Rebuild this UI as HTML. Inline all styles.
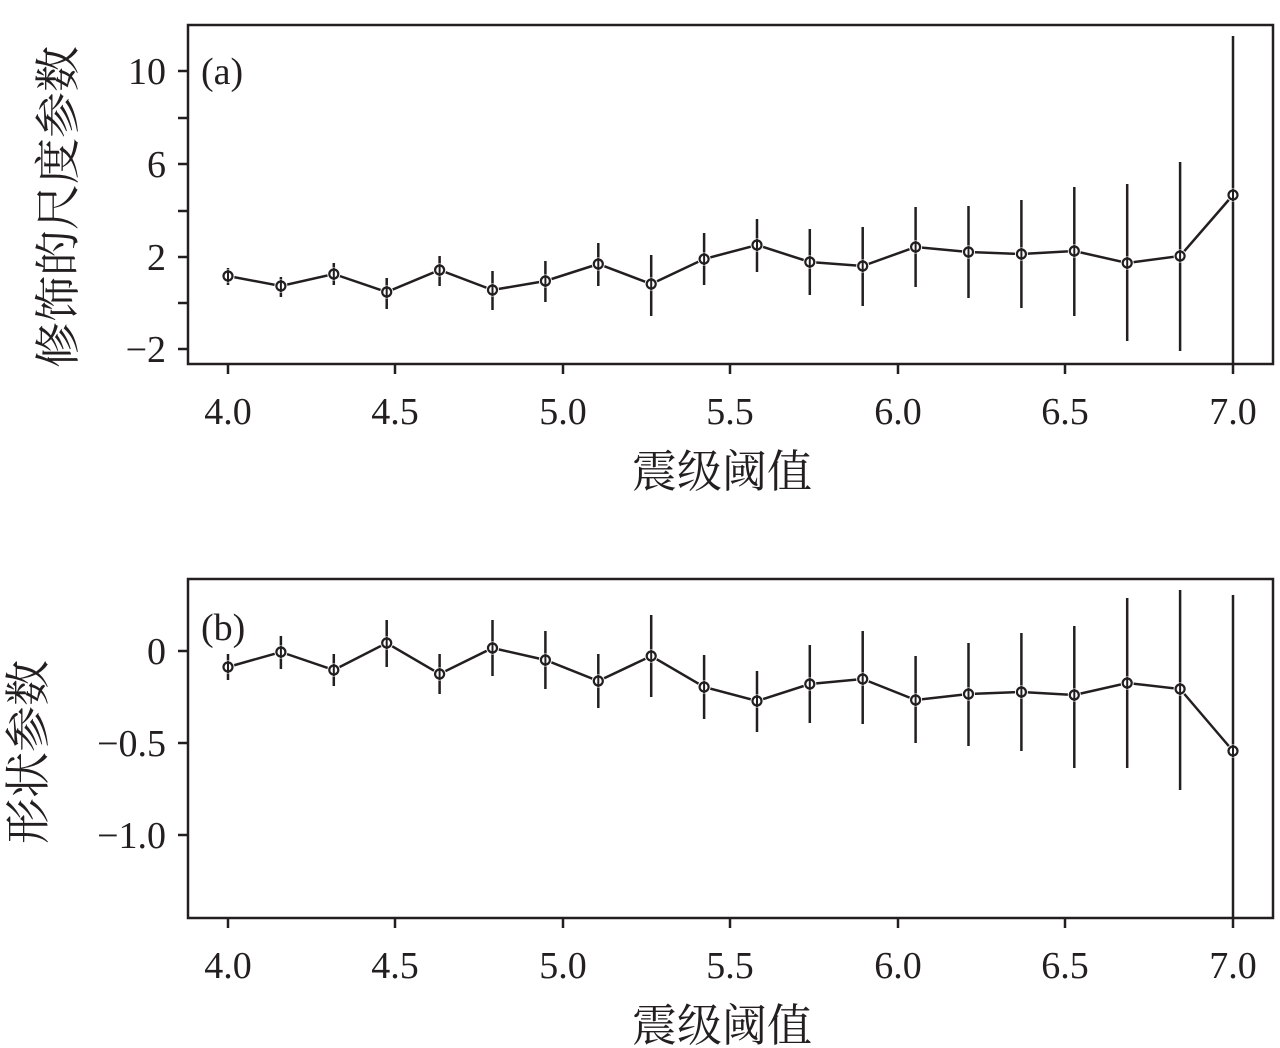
<!DOCTYPE html>
<html><head><meta charset="utf-8"><style>body{margin:0;background:#fff}svg{display:block}</style></head>
<body>
<svg width="1280" height="1048" xmlns="http://www.w3.org/2000/svg" font-family="'Liberation Serif','Noto Serif CJK SC',serif" fill="#231f20">
<g stroke="#231f20" stroke-width="2.5" fill="none">
<rect x="188" y="25" width="1085" height="339"/>
<path d="M188 71h-10M188 118h-10M188 164h-10M188 211h-10M188 257h-10M188 303h-10M188 349h-10"/>
<path d="M228 364v10M395 364v10M563 364v10M730 364v10M898 364v10M1065 364v10M1233 364v10"/>
<rect x="188" y="579" width="1085" height="339"/>
<path d="M188 651h-10M188 743h-10M188 835h-10"/>
<path d="M228 918v10M395 918v10M563 918v10M730 918v10M898 918v10M1065 918v10M1233 918v10"/>
<path d="M228 268V285M280.9 277V297M333.8 263V285M386.7 278V309M439.6 256V286M492.5 271V310M545.4 261V302M598.3 243V286M651.2 255V316M704.1 233V285M757 219V272M809.8 229V295M862.7 227V306M915.6 207V287M968.5 206V298M1021.4 200V308M1074.3 187V316M1127.2 184V341M1180.1 162V351M1233 36V365"/>
<polyline points="228,276 280.9,286 333.8,274 386.7,292 439.6,270 492.5,290 545.4,281 598.3,264 651.2,284 704.1,259 757,245 809.8,262 862.7,266 915.6,247 968.5,252 1021.4,254 1074.3,251 1127.2,263 1180.1,256 1233,195"/>
<path d="M228 654V680M280.9 636V669M333.8 654V686M386.7 620V667M439.6 654V694M492.5 620V676M545.4 631V689M598.3 654V708M651.2 615V697M704.1 655V719M757 671V732M809.8 645V723M862.7 631V724M915.6 656V743M968.5 643V746M1021.4 633V751M1074.3 626V768M1127.2 598V768M1180.1 590V790M1233 595V918"/>
<polyline points="228,667 280.9,652 333.8,670 386.7,643 439.6,674 492.5,648 545.4,660 598.3,681 651.2,656 704.1,687 757,701 809.8,684 862.7,679 915.6,700 968.5,694 1021.4,692 1074.3,695 1127.2,683 1180.1,689 1233,751"/>
</g>
<g fill="#fff">
<circle cx="228" cy="276" r="6.5"/><circle cx="280.9" cy="286" r="6.5"/><circle cx="333.8" cy="274" r="6.5"/><circle cx="386.7" cy="292" r="6.5"/><circle cx="439.6" cy="270" r="6.5"/><circle cx="492.5" cy="290" r="6.5"/><circle cx="545.4" cy="281" r="6.5"/><circle cx="598.3" cy="264" r="6.5"/><circle cx="651.2" cy="284" r="6.5"/><circle cx="704.1" cy="259" r="6.5"/><circle cx="757" cy="245" r="6.5"/><circle cx="809.8" cy="262" r="6.5"/><circle cx="862.7" cy="266" r="6.5"/><circle cx="915.6" cy="247" r="6.5"/><circle cx="968.5" cy="252" r="6.5"/><circle cx="1021.4" cy="254" r="6.5"/><circle cx="1074.3" cy="251" r="6.5"/><circle cx="1127.2" cy="263" r="6.5"/><circle cx="1180.1" cy="256" r="6.5"/><circle cx="1233" cy="195" r="6.5"/>
<circle cx="228" cy="667" r="6.5"/><circle cx="280.9" cy="652" r="6.5"/><circle cx="333.8" cy="670" r="6.5"/><circle cx="386.7" cy="643" r="6.5"/><circle cx="439.6" cy="674" r="6.5"/><circle cx="492.5" cy="648" r="6.5"/><circle cx="545.4" cy="660" r="6.5"/><circle cx="598.3" cy="681" r="6.5"/><circle cx="651.2" cy="656" r="6.5"/><circle cx="704.1" cy="687" r="6.5"/><circle cx="757" cy="701" r="6.5"/><circle cx="809.8" cy="684" r="6.5"/><circle cx="862.7" cy="679" r="6.5"/><circle cx="915.6" cy="700" r="6.5"/><circle cx="968.5" cy="694" r="6.5"/><circle cx="1021.4" cy="692" r="6.5"/><circle cx="1074.3" cy="695" r="6.5"/><circle cx="1127.2" cy="683" r="6.5"/><circle cx="1180.1" cy="689" r="6.5"/><circle cx="1233" cy="751" r="6.5"/>
</g>
<g fill="none" stroke="#231f20" stroke-width="2.2">
<circle cx="228" cy="276" r="4.5"/><circle cx="280.9" cy="286" r="4.5"/><circle cx="333.8" cy="274" r="4.5"/><circle cx="386.7" cy="292" r="4.5"/><circle cx="439.6" cy="270" r="4.5"/><circle cx="492.5" cy="290" r="4.5"/><circle cx="545.4" cy="281" r="4.5"/><circle cx="598.3" cy="264" r="4.5"/><circle cx="651.2" cy="284" r="4.5"/><circle cx="704.1" cy="259" r="4.5"/><circle cx="757" cy="245" r="4.5"/><circle cx="809.8" cy="262" r="4.5"/><circle cx="862.7" cy="266" r="4.5"/><circle cx="915.6" cy="247" r="4.5"/><circle cx="968.5" cy="252" r="4.5"/><circle cx="1021.4" cy="254" r="4.5"/><circle cx="1074.3" cy="251" r="4.5"/><circle cx="1127.2" cy="263" r="4.5"/><circle cx="1180.1" cy="256" r="4.5"/><circle cx="1233" cy="195" r="4.5"/>
<circle cx="228" cy="667" r="4.5"/><circle cx="280.9" cy="652" r="4.5"/><circle cx="333.8" cy="670" r="4.5"/><circle cx="386.7" cy="643" r="4.5"/><circle cx="439.6" cy="674" r="4.5"/><circle cx="492.5" cy="648" r="4.5"/><circle cx="545.4" cy="660" r="4.5"/><circle cx="598.3" cy="681" r="4.5"/><circle cx="651.2" cy="656" r="4.5"/><circle cx="704.1" cy="687" r="4.5"/><circle cx="757" cy="701" r="4.5"/><circle cx="809.8" cy="684" r="4.5"/><circle cx="862.7" cy="679" r="4.5"/><circle cx="915.6" cy="700" r="4.5"/><circle cx="968.5" cy="694" r="4.5"/><circle cx="1021.4" cy="692" r="4.5"/><circle cx="1074.3" cy="695" r="4.5"/><circle cx="1127.2" cy="683" r="4.5"/><circle cx="1180.1" cy="689" r="4.5"/><circle cx="1233" cy="751" r="4.5"/>
</g>
<g stroke="#231f20" stroke-width="2">
<path d="M228 270V282M280.9 280V292M333.8 268V280M386.7 286V298M439.6 264V276M492.5 284V296M545.4 275V287M598.3 258V270M651.2 278V290M704.1 253V265M757 239V251M809.8 256V268M862.7 260V272M915.6 241V253M968.5 246V258M1021.4 248V260M1074.3 245V257M1127.2 257V269M1180.1 250V262M1233 189V201"/>
<path d="M228 661V673M280.9 646V658M333.8 664V676M386.7 637V649M439.6 668V680M492.5 642V654M545.4 654V666M598.3 675V687M651.2 650V662M704.1 681V693M757 695V707M809.8 678V690M862.7 673V685M915.6 694V706M968.5 688V700M1021.4 686V698M1074.3 689V701M1127.2 677V689M1180.1 683V695M1233 745V757"/>
</g>
<g font-size="38" text-anchor="end">
<text x="166" y="84">10</text><text x="166" y="177">6</text><text x="166" y="270">2</text><text x="166" y="362">−2</text>
<text x="166" y="664">0</text><text x="166" y="756">−0.5</text><text x="166" y="848">−1.0</text>
</g>
<g font-size="38" text-anchor="middle">
<text x="228" y="424">4.0</text><text x="395" y="424">4.5</text><text x="563" y="424">5.0</text><text x="730" y="424">5.5</text><text x="898" y="424">6.0</text><text x="1065" y="424">6.5</text><text x="1233" y="424">7.0</text>
<text x="228" y="978">4.0</text><text x="395" y="978">4.5</text><text x="563" y="978">5.0</text><text x="730" y="978">5.5</text><text x="898" y="978">6.0</text><text x="1065" y="978">6.5</text><text x="1233" y="978">7.0</text>
<text x="722" y="487" font-size="45">震级阈值</text>
<text x="722" y="1041" font-size="45">震级阈值</text>
</g>
<text x="201" y="84" font-size="38">(a)</text>
<text x="201" y="640" font-size="38">(b)</text>
<text transform="translate(74,207) rotate(-90)" font-size="46" text-anchor="middle">修饰的尺度参数</text>
<text transform="translate(44,752) rotate(-90)" font-size="46" text-anchor="middle">形状参数</text>
</svg>
</body></html>
